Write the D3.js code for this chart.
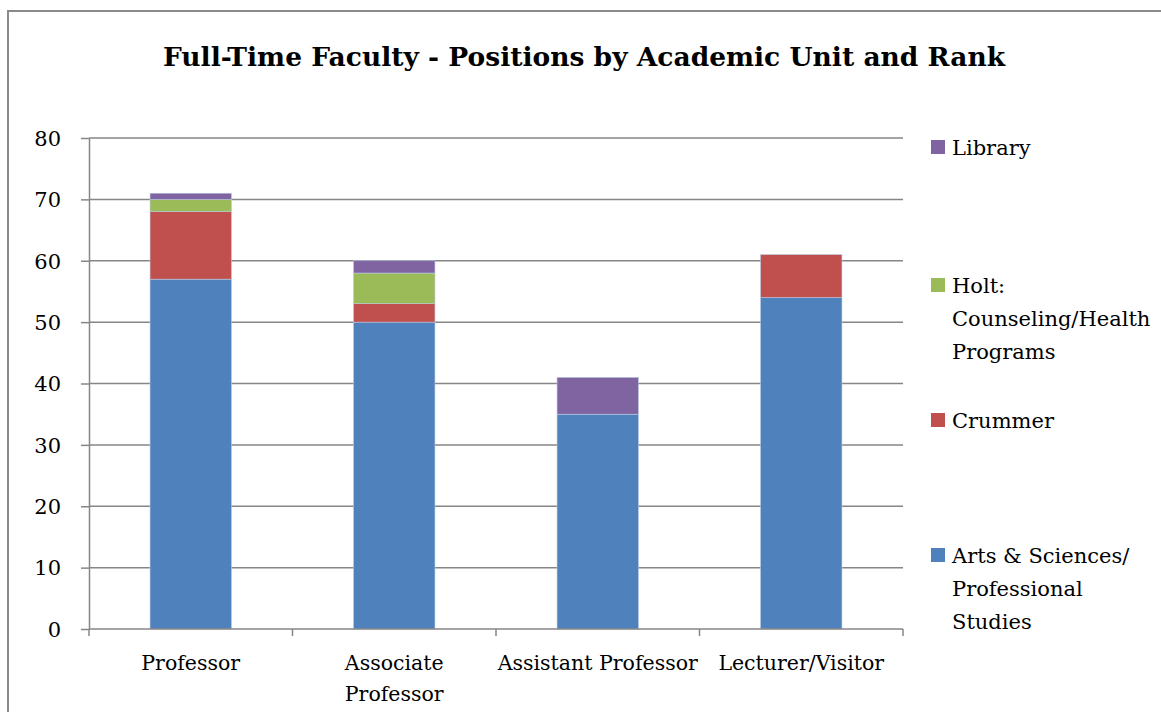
<!DOCTYPE html>
<html>
<head>
<meta charset="utf-8">
<script src="https://cdn.jsdelivr.net/npm/d3@7"></script>
<style>
  body { margin: 0; background: #fff; }
  text { font-family: "DejaVu Serif", serif; fill: #000; }
</style>
</head>
<body>
<svg id="chart"></svg>
<script>
// data
var ranks = ["Professor", "Associate Professor", "Assistant Professor", "Lecturer/Visitor"];
var artsSciences = [57, 50, 35, 54];
var crummer = [11, 3, 0, 7];
var holt = [2, 5, 0, 0];
var library = [1, 2, 6, 0];
var yTicks = [0, 10, 20, 30, 40, 50, 60, 70, 80];

var colors = ["#4F81BD", "#C0504D", "#9BBB59", "#8064A2"];

var width = 1161, height = 712;
var margin = {top: 138, right: 258, bottom: 83, left: 89};

var svg = d3.select("#chart").attr("width", width).attr("height", height);

// outer frame (runs off the picture on the right and bottom)
svg.append("rect")
  .attr("x", 8).attr("y", 11)
  .attr("width", width + 20).attr("height", height + 20)
  .attr("fill", "none").attr("stroke", "#8a8a8a").attr("stroke-width", 2);

svg.append("text")
  .attr("x", 584).attr("y", 66)
  .attr("text-anchor", "middle")
  .style("font-size", "26.5px").style("font-weight", "bold")
  .text("Full-Time Faculty - Positions by Academic Unit and Rank");

var rows = ranks.map(function(r, i) {
  return {rank: r, a: artsSciences[i], c: crummer[i], h: holt[i], l: library[i]};
});
var stack = d3.stack().keys(["a", "c", "h", "l"])(rows);

var x = d3.scaleBand().domain(ranks).range([margin.left, width - margin.right]).paddingInner(0.6).paddingOuter(0.3);
var band = d3.scaleBand().domain(ranks).range([margin.left, width - margin.right]);
var y = d3.scaleLinear().domain([0, 80]).range([height - margin.bottom, margin.top]);

// gridlines
svg.append("g").selectAll("line").data(yTicks.slice(1)).join("line")
  .attr("x1", margin.left).attr("x2", width - margin.right)
  .attr("y1", function(d) { return y(d); }).attr("y2", function(d) { return y(d); })
  .attr("stroke", "#868686").attr("stroke-width", 1.5);

// bars
svg.append("g").selectAll("g").data(stack).join("g")
  .attr("fill", function(d, i) { return colors[i]; })
  .selectAll("rect").data(function(d) { return d; }).join("rect")
  .filter(function(d) { return d[1] > d[0]; })
  .attr("x", function(d) { return x(d.data.rank); })
  .attr("width", x.bandwidth())
  .attr("y", function(d) { return y(d[1]); })
  .attr("height", function(d) { return y(d[0]) - y(d[1]); })
  .attr("stroke", "#b9c9e0").attr("stroke-width", 0.6);

// y axis
var yAxis = svg.append("g")
  .attr("transform", "translate(" + margin.left + ",0)")
  .call(d3.axisLeft(y).tickValues(yTicks).tickSize(8).tickPadding(20).tickSizeOuter(0));
yAxis.select(".domain").attr("stroke", "#868686").attr("stroke-width", 1.5);
yAxis.selectAll(".tick line").attr("stroke", "#868686").attr("stroke-width", 1.5);
yAxis.selectAll(".tick text").style("font-size", "21px").attr("dy", "0.35em")
  .style("font-family", "DejaVu Serif");

// x axis with ticks at band edges
var xAxisG = svg.append("g").attr("transform", "translate(0," + y(0) + ")");
xAxisG.append("line")
  .attr("x1", margin.left).attr("x2", width - margin.right)
  .attr("stroke", "#868686").attr("stroke-width", 1.5);
var edges = ranks.map(function(r) { return band(r); }).concat([band.range()[1]]);
xAxisG.selectAll(".edge").data(edges).join("line")
  .attr("class", "edge")
  .attr("x1", function(d) { return d; }).attr("x2", function(d) { return d; })
  .attr("y1", 0).attr("y2", 7)
  .attr("stroke", "#868686").attr("stroke-width", 1.5);

var xLabelLines = {"Associate Professor": ["Associate", "Professor"]};
xAxisG.selectAll(".lbl").data(ranks).join("text")
  .attr("class", "lbl")
  .attr("text-anchor", "middle")
  .style("font-size", "20.5px")
  .attr("transform", function(d) { return "translate(" + (band(d) + band.bandwidth() / 2) + ",41)"; })
  .each(function(d) {
    var lines = xLabelLines[d] || [d];
    d3.select(this).selectAll("tspan").data(lines).join("tspan")
      .attr("x", 0).attr("dy", function(t, i) { return i ? 31 : 0; })
      .text(function(t) { return t; });
  });

// legend, top to bottom in reverse series order
var legendItems = [
  {lines: ["Library"], color: colors[3], y: 147},
  {lines: ["Holt:", "Counseling/Health", "Programs"], color: colors[2], y: 285},
  {lines: ["Crummer"], color: colors[1], y: 420},
  {lines: ["Arts & Sciences/", "Professional", "Studies"], color: colors[0], y: 555}
];
var legend = svg.append("g").selectAll("g").data(legendItems).join("g")
  .attr("transform", function(d) { return "translate(931," + d.y + ")"; });
legend.append("rect").attr("x", 0).attr("y", -7).attr("width", 14).attr("height", 14)
  .attr("fill", function(d) { return d.color; });
legend.append("text")
  .style("font-size", "21px")
  .attr("x", 21).attr("y", 8)
  .selectAll("tspan").data(function(d) { return d.lines; }).join("tspan")
  .attr("x", 21).attr("dy", function(t, i) { return i ? 33 : 0; })
  .text(function(t) { return t; });
</script>
</body>
</html>
